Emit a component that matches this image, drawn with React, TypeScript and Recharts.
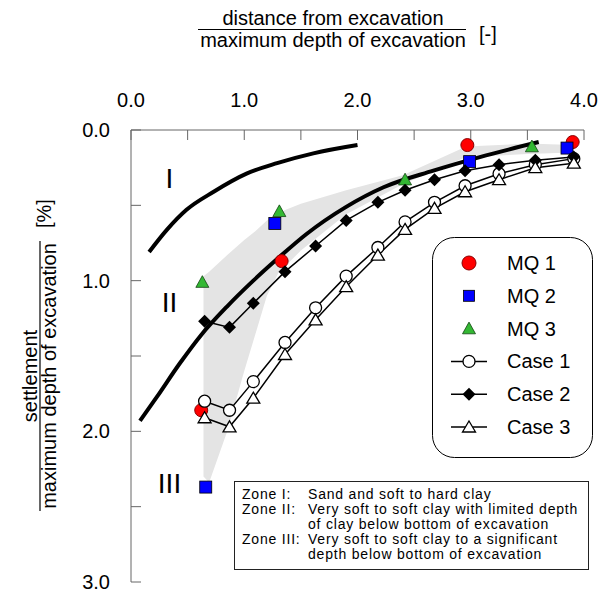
import { ComposedChart, XAxis, YAxis, Line, Area, Scatter, Legend, ReferenceDot } from "recharts";

const FONT = '"Liberation Sans", Arial, sans-serif';

const X_TICKS = [0, 0.5, 1, 1.5, 2, 2.5, 3, 3.5, 4];
const Y_TICKS = [0, 0.5, 1, 1.5, 2, 2.5, 3];

// zone boundary curves
const ZONE_I = [
  { x: 0.16, y: 0.81 }, { x: 0.32, y: 0.66 }, { x: 0.49, y: 0.53 }, { x: 0.73, y: 0.41 },
  { x: 1.02, y: 0.29 }, { x: 1.29, y: 0.22 }, { x: 1.61, y: 0.155 }, { x: 2.0, y: 0.1 },
];
const ZONE_II = [
  { x: 0.08, y: 1.93 }, { x: 0.23, y: 1.77 }, { x: 0.43, y: 1.55 }, { x: 0.62, y: 1.36 },
  { x: 0.85, y: 1.17 }, { x: 1.08, y: 1.0 }, { x: 1.3, y: 0.85 }, { x: 1.55, y: 0.69 },
  { x: 1.9, y: 0.51 }, { x: 2.23, y: 0.38 }, { x: 2.67, y: 0.27 }, { x: 3.08, y: 0.18 },
  { x: 3.6, y: 0.08 },
];

// grey band of measured values: [top, bottom] at each x
const BAND_X = [0.64, 0.69, 0.85, 1.0, 1.1, 1.2, 1.3, 1.5, 1.9, 2.4, 2.96, 3.5, 3.9];
const BAND_TOP = [0.97, 0.94, 0.83, 0.73, 0.67, 0.6, 0.55, 0.49, 0.4, 0.3, 0.11, 0.09, 0.1];
const BAND_BOTTOM = [2.3, 2.34, 2.0, 1.6, 1.35, 1.1, 0.95, 0.8, 0.56, 0.36, 0.18, 0.16, 0.15];
const BAND = BAND_X.map((x, i) => ({ x, range: [BAND_TOP[i], BAND_BOTTOM[i]] }));

const MQ1 = [{ x: 0.62, y: 1.86 }, { x: 1.33, y: 0.87 }, { x: 2.97, y: 0.1 }, { x: 3.9, y: 0.08 }];
const MQ2 = [{ x: 0.66, y: 2.37 }, { x: 1.27, y: 0.62 }, { x: 2.99, y: 0.21 }, { x: 3.85, y: 0.12 }];
const MQ3 = [{ x: 0.63, y: 1.01 }, { x: 1.31, y: 0.54 }, { x: 2.42, y: 0.33 }, { x: 3.54, y: 0.11 }];

const CASE_X = [0.65, 0.87, 1.08, 1.36, 1.63, 1.9, 2.18, 2.42, 2.68, 2.95, 3.25, 3.57, 3.91];
const CASE1_Y = [1.8, 1.86, 1.67, 1.41, 1.18, 0.97, 0.78, 0.61, 0.48, 0.37, 0.29, 0.23, 0.19];
const CASE2_Y = [1.27, 1.31, 1.15, 0.94, 0.77, 0.6, 0.48, 0.4, 0.33, 0.27, 0.23, 0.2, 0.18];
const CASE3_Y = [1.91, 1.97, 1.78, 1.49, 1.26, 1.04, 0.83, 0.66, 0.52, 0.41, 0.33, 0.25, 0.22];

const toPoints = (ys: number[]) => CASE_X.map((x, i) => ({ x, y: ys[i] }));
const CASE1 = toPoints(CASE1_Y);
const CASE2 = toPoints(CASE2_Y);
const CASE3 = toPoints(CASE3_Y);

const fmt = (v: number) => (Number.isInteger(v) ? v.toFixed(1) : "");

// marker drawings
const redCircle = (cx: number, cy: number, r = 6.5) => (
  <circle cx={cx} cy={cy} r={r} fill="#ff0000" stroke="#8a0000" strokeWidth={1} />
);
const blueSquare = (cx: number, cy: number, s = 12) => (
  <rect x={cx - s / 2} y={cy - s / 2} width={s} height={s} fill="#0000ff" stroke="#000" strokeWidth={0.8} />
);
const greenTriangle = (cx: number, cy: number, w = 13) => (
  <polygon
    points={`${cx},${cy - w * 0.5} ${cx + w / 2},${cy + w * 0.4} ${cx - w / 2},${cy + w * 0.4}`}
    fill="#33b833"
    stroke="#114411"
    strokeWidth={0.8}
  />
);
const openCircle = (cx: number, cy: number) => (
  <circle cx={cx} cy={cy} r={6} fill="#fff" stroke="#000" strokeWidth={1.3} />
);
const diamond = (cx: number, cy: number) => (
  <polygon points={`${cx},${cy - 6.5} ${cx + 6.5},${cy} ${cx},${cy + 6.5} ${cx - 6.5},${cy}`} fill="#000" />
);
const openTriangle = (cx: number, cy: number) => (
  <polygon
    points={`${cx},${cy - 6} ${cx + 6.5},${cy + 5} ${cx - 6.5},${cy + 5}`}
    fill="#fff"
    stroke="#000"
    strokeWidth={1.3}
  />
);

const dotOf = (draw: (cx: number, cy: number) => JSX.Element) => (p: any) => (
  <g key={`d-${p.index}`}>{draw(p.cx, p.cy)}</g>
);

const LEGEND_ROWS: { label: string; draw: (cx: number, cy: number) => JSX.Element; line?: boolean }[] = [
  { label: "MQ 1", draw: (cx, cy) => redCircle(cx, cy, 7) },
  { label: "MQ 2", draw: (cx, cy) => blueSquare(cx, cy, 11) },
  { label: "MQ 3", draw: (cx, cy) => greenTriangle(cx, cy, 13) },
  { label: "Case 1", draw: openCircle, line: true },
  { label: "Case 2", draw: diamond, line: true },
  { label: "Case 3", draw: openTriangle, line: true },
];

function LegendBox() {
  return (
    <svg width={162} height={222} style={{ display: "block" }}>
      <rect x={0.5} y={0.5} width={160} height={220} rx={22} fill="#fff" stroke="#000" strokeWidth={1} />
      {LEGEND_ROWS.map((r, i) => {
        const cy = 26 + i * 32.8;
        return (
          <g key={r.label}>
            {r.line && <line x1={19} x2={55} y1={cy} y2={cy} stroke="#000" strokeWidth={1.5} />}
            {r.draw(37, cy)}
            <text x={75} y={cy + 7} fontSize={20} fontFamily={FONT} fill="#000">
              {r.label}
            </text>
          </g>
        );
      })}
    </svg>
  );
}

const NOTE_LINES = [
  ["Zone I:", "Sand and soft to hard clay"],
  ["Zone II:", "Very soft to soft clay with limited depth"],
  ["", "of clay below bottom of excavation"],
  ["Zone III:", "Very soft to soft clay to a significant"],
  ["", "depth below bottom of excavation"],
];

const zoneLabel = (value: string) => ({ value, position: "center" as const, fontSize: 28, fill: "#000", fontFamily: FONT });

export default function App() {
  return (
    <div style={{ position: "absolute", left: 0, top: 0, width: 607, height: 591, background: "#fff" }}>
      <ComposedChart width={607} height={591} margin={{ top: 100, right: 23, bottom: 9, left: 81 }}>
        <XAxis
          type="number"
          dataKey="x"
          orientation="top"
          domain={[0, 4]}
          ticks={X_TICKS}
          interval={0}
          height={30}
          tickSize={-10}
          tickMargin={33}
          tickFormatter={fmt}
          tick={{ fontSize: 20, fill: "#000", fontFamily: FONT }}
          stroke="#666"
          allowDataOverflow
        />
        <YAxis
          type="number"
          reversed
          domain={[0, 3]}
          ticks={Y_TICKS}
          interval={0}
          width={50}
          tickSize={-10}
          tickMargin={31}
          tickFormatter={fmt}
          tick={{ fontSize: 20, fill: "#000", fontFamily: FONT }}
          stroke="#666"
          allowDataOverflow
        />
        <Area
          data={BAND}
          dataKey="range"
          type="linear"
          fill="#e4e4e4"
          fillOpacity={1}
          stroke="none"
          activeDot={false}
          legendType="none"
          isAnimationActive={false}
        />
        <Line data={ZONE_I} dataKey="y" type="monotone" stroke="#000" strokeWidth={4} dot={false} activeDot={false} legendType="none" isAnimationActive={false} />
        <Line data={ZONE_II} dataKey="y" type="monotone" stroke="#000" strokeWidth={4} dot={false} activeDot={false} legendType="none" isAnimationActive={false} />
        <Scatter name="MQ 1" data={MQ1} dataKey="y" shape={(p: any) => redCircle(p.cx, p.cy)} isAnimationActive={false} />
        <Scatter name="MQ 2" data={MQ2} dataKey="y" shape={(p: any) => blueSquare(p.cx, p.cy)} isAnimationActive={false} />
        <Scatter name="MQ 3" data={MQ3} dataKey="y" shape={(p: any) => greenTriangle(p.cx, p.cy)} isAnimationActive={false} />
        <Line name="Case 1" data={CASE1} dataKey="y" type="linear" stroke="#000" strokeWidth={1.5} dot={dotOf(openCircle)} activeDot={false} isAnimationActive={false} />
        <Line name="Case 2" data={CASE2} dataKey="y" type="linear" stroke="#000" strokeWidth={1.5} dot={dotOf(diamond)} activeDot={false} isAnimationActive={false} />
        <Line name="Case 3" data={CASE3} dataKey="y" type="linear" stroke="#000" strokeWidth={1.5} dot={dotOf(openTriangle)} activeDot={false} isAnimationActive={false} />
        <ReferenceDot x={0.34} y={0.32} r={0} fill="none" stroke="none" label={zoneLabel("I")} ifOverflow="visible" />
        <ReferenceDot x={0.34} y={1.14} r={0} fill="none" stroke="none" label={zoneLabel("II")} ifOverflow="visible" />
        <ReferenceDot x={0.34} y={2.34} r={0} fill="none" stroke="none" label={zoneLabel("III")} ifOverflow="visible" />
        <Legend
          layout="vertical"
          verticalAlign="middle"
          align="center"
          content={() => <LegendBox />}
          wrapperStyle={{ position: "absolute", left: 432, top: 237, width: 162, height: 222 }}
        />
      </ComposedChart>

      <svg
        width={607}
        height={591}
        style={{ position: "absolute", left: 0, top: 0, pointerEvents: "none" }}
        fontFamily={FONT}
        fill="#000"
      >
        <text x={333} y={25} textAnchor="middle" fontSize={20}>distance from excavation</text>
        <line x1={198} x2={466} y1={29.5} y2={29.5} stroke="#000" strokeWidth={1.2} />
        <text x={333} y={47} textAnchor="middle" fontSize={20}>maximum depth of excavation</text>
        <text x={479} y={41} fontSize={20}>[-]</text>

        <g transform="translate(40,376) rotate(-90)">
          <text x={0} y={-3} textAnchor="middle" fontSize={20}>settlement</text>
          <line x1={-135} x2={135} y1={0} y2={0} stroke="#000" strokeWidth={1.2} />
          <text x={0} y={15.5} textAnchor="middle" fontSize={20}>maximum depth of excavation</text>
          <text x={148} y={10.5} fontSize={20}>[%]</text>
        </g>

        <rect x={234.5} y={481.5} width={354} height={88} fill="#fff" stroke="#222" strokeWidth={1} />
        {NOTE_LINES.map(([a, b], i) => (
          <g key={i}>
            {a && <text x={242} y={499 + i * 15} fontSize={14} letterSpacing={0.8}>{a}</text>}
            <text x={308} y={499 + i * 15} fontSize={14} letterSpacing={0.8}>{b}</text>
          </g>
        ))}
      </svg>
    </div>
  );
}
